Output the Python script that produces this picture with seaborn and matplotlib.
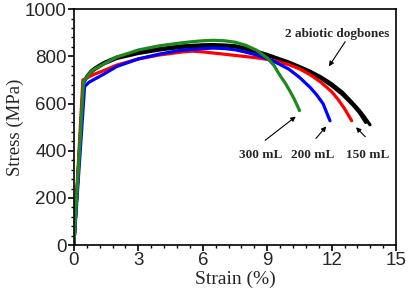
import pandas as pd
import matplotlib.pyplot as plt
import seaborn as sns
from matplotlib.ticker import MultipleLocator

# Read-off values (strain %, stress MPa)
black1_strain = [0, 0.45, 0.6, 0.8, 1.0, 1.4, 2, 3, 4, 5, 6, 6.5, 7, 7.5, 8, 8.5, 9, 9.5,
                 10, 10.5, 11, 11.5, 12, 12.5, 12.9, 13.3, 13.55, 13.78]
black1_stress = [0, 690, 715, 738, 752, 774, 797, 818, 833, 844, 849, 850, 848, 845, 835, 822, 808, 792,
                 776, 757, 737, 713, 684, 648, 610, 570, 540, 510]
black2_strain = [0, 0.45, 0.6, 0.8, 1.0, 1.4, 2, 3, 4, 5, 6, 6.5, 7, 7.5, 8, 8.5, 9, 9.5,
                 10, 10.5, 11, 11.5, 12, 12.5, 13.0, 13.3, 13.58]
black2_stress = [0, 688, 710, 732, 746, 768, 791, 812, 827, 838, 843, 845, 844, 840, 830, 818, 803, 788,
                 771, 752, 731, 706, 675, 638, 592, 560, 520]
red_strain = [0, 0.42, 0.6, 0.8, 1.0, 1.4, 2, 3, 4, 5, 5.5, 6, 6.5, 7, 8, 8.5, 9, 9.5,
              10, 10.5, 11, 11.5, 12, 12.3, 12.6, 12.93]
red_stress = [0, 700, 708, 718, 726, 740, 763, 789, 806, 818, 822, 819, 814, 809, 799, 794, 787, 777,
              765, 747, 722, 690, 650, 617, 578, 527]
blue_strain = [0, 0.5, 0.7, 1.0, 1.4, 2, 3, 4, 5, 6, 6.5, 7, 7.5, 8, 8.5, 9, 9.5,
               10, 10.5, 11, 11.3, 11.6, 11.92]
blue_stress = [0, 672, 690, 705, 725, 757, 789, 810, 826, 833, 835, 833, 828, 818, 806, 790, 770,
               746, 711, 668, 637, 599, 527]
green_strain = [0, 0.45, 0.6, 0.8, 1.0, 1.4, 2, 3, 4, 5, 5.5, 6, 6.5, 7, 7.5, 8, 8.5,
                9, 9.3, 9.6, 9.85, 10.06, 10.25, 10.43, 10.5]
green_stress = [0, 692, 712, 735, 748, 768, 797, 827, 845, 857, 862, 866, 868, 866, 860, 847, 826,
                793, 763, 718, 685, 652, 620, 585, 570]

curves = [
    ('black1', black1_strain, black1_stress, 'black'),
    ('black2', black2_strain, black2_stress, 'black'),
    ('red', red_strain, red_stress, '#ff0000'),
    ('blue', blue_strain, blue_stress, '#0000ff'),
    ('green', green_strain, green_stress, '#1e8a1e'),
]

sns.set_style('ticks')
fig, ax = plt.subplots(figsize=(4.08, 2.95), dpi=100)
fig.subplots_adjust(left=0.181, right=0.971, bottom=0.169, top=0.969)

for name, xs, ys, col in curves:
    d = pd.DataFrame({'Strain': xs, 'Stress': ys})
    sns.lineplot(data=d, x='Strain', y='Stress', sort=False, color=col,
                 linewidth=2.3, ax=ax, solid_joinstyle='round', solid_capstyle='round')

ax.set_xlim(0, 15)
ax.set_ylim(0, 1000)
ax.xaxis.set_major_locator(MultipleLocator(3))
ax.xaxis.set_minor_locator(MultipleLocator(0.6))
ax.yaxis.set_major_locator(MultipleLocator(200))
ax.yaxis.set_minor_locator(MultipleLocator(40))
ax.tick_params(which='major', length=4, width=1.2, labelsize=13.5, pad=1, color='black')
ax.tick_params(which='minor', length=2.5, width=1.0, color='black')
for lab in ax.get_xticklabels() + ax.get_yticklabels():
    lab.set_family('Liberation Sans')
for s in ax.spines.values():
    s.set_linewidth(1.2)
    s.set_color('black')

ax.set_xlabel('Strain (%)', family='Liberation Serif', fontsize=14, labelpad=1)
ax.set_ylabel('Stress (MPa)', family='Liberation Serif', fontsize=13.5, labelpad=1)

ann = dict(family='Liberation Serif', fontsize=9.5, fontweight='bold', ha='center', va='center')
arrow = dict(arrowstyle='-|>', color='black', lw=0.8, mutation_scale=7)
ax.text(12.25, 895, '2 abiotic dogbones', **ann)
ax.annotate('', xy=(11.8, 748), xytext=(12.7, 872), arrowprops=arrow)
ax.text(8.71, 384, '300 mL', **ann)
ax.annotate('', xy=(10.43, 552), xytext=(8.8, 437), arrowprops=arrow)
ax.text(11.13, 384, '200 mL', **ann)
ax.annotate('', xy=(11.83, 512), xytext=(11.18, 443), arrowprops=arrow)
ax.text(13.69, 384, '150 mL', **ann)
ax.annotate('', xy=(13.04, 508), xytext=(13.65, 451), arrowprops=arrow)

fig.savefig('out.png', dpi=100)
